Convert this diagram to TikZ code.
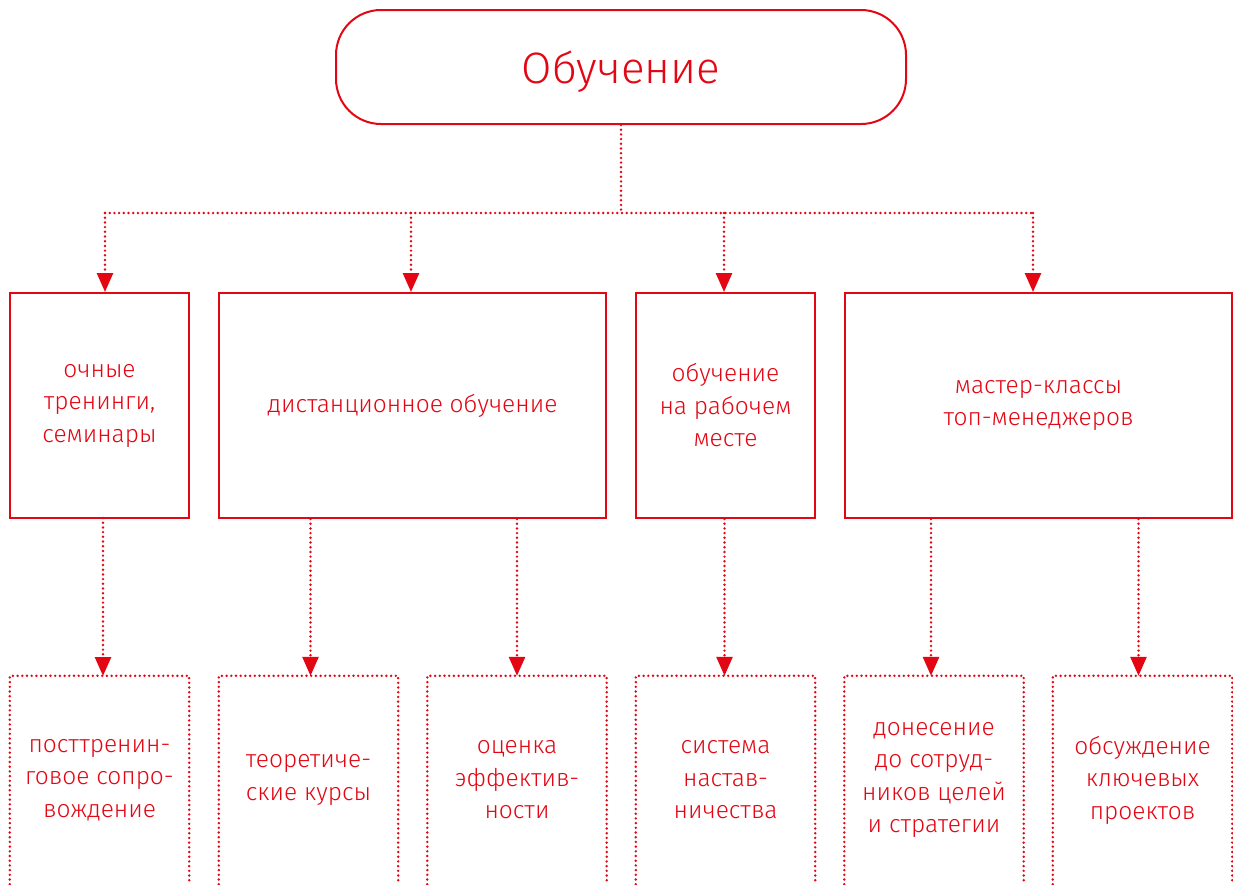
\documentclass[tikz,border=0pt]{standalone}
\usepackage{fontspec}
\setmainfont{Fira Sans Light}
\usetikzlibrary{arrows.meta}
\definecolor{brandred}{RGB}{227,6,19}

\begin{document}
\begin{tikzpicture}
[x=1pt, y=-1pt,
 every node/.style={inner sep=0pt, text=brandred, align=center, font=\fontsize{24.5}{32.5}\selectfont},
 topbox/.style={rectangle, rounded corners=45pt, draw=brandred, line width=2pt, minimum width=570pt, minimum height=114pt, text depth=0pt},
 kindbox/.style={rectangle, draw=brandred, line width=2pt, minimum height=225pt},
 formbox/.style={rectangle, minimum width=179pt, minimum height=208pt},
 link/.style={draw=brandred, line width=2.7pt, line cap=round, dash pattern=on 0pt off 4.7pt},
 arrow/.style={link, -{Triangle[width=16pt, length=19pt]}}]
\useasboundingbox (0,0) rectangle (1233,884);
% top
\node (learn) [topbox, font=\fontsize{44}{54}\selectfont] at (621, 67) {Обучение};
% kinds of learning
\node (m1) [kindbox, minimum width=179pt] at (99.5, 405.5) {очные\\тренинги,\\семинары};
\node (m2) [kindbox, minimum width=387pt] at (412.5, 405.5) {дистанционное обучение};
\node (m3) [kindbox, minimum width=179pt] at (725.5, 405.5) {обучение\\на рабочем\\месте};
\node (m4) [kindbox, minimum width=387pt] at (1038.5, 405.5) {мастер-классы\\топ-менеджеров};
% forms
\node (b1) [formbox] at (99.5, 780) {посттренин-\\говое сопро-\\вождение};
\node (b2) [formbox] at (308.5, 780) {теоретиче-\\ские курсы};
\node (b3) [formbox] at (517, 780) {оценка\\эффектив-\\ности};
\node (b4) [formbox] at (725.5, 780) {система\\настав-\\ничества};
\node (b5) [formbox] at (934, 780) {донесение\\до сотруд-\\ников целей\\и стратегии};
\node (b6) [formbox] at (1142.5, 780) {обсуждение\\ключевых\\проектов};
\foreach \b in {b1,b2,b3,b4,b5,b6}
  \draw [link] (\b.south west) -- (\b.north west) -- (\b.north east) -- (\b.south east);
% junctions
\coordinate (j0) at (621, 213);
\coordinate (j1) at (105, 213);
\coordinate (j2) at (411, 213);
\coordinate (j3) at (724, 213);
\coordinate (j4) at (1033, 213);
\draw [link] (learn.south) -- (j0);
\draw [link] (j1) -- (j4);
\draw [arrow] (j1) -- (j1 |- m1.north);
\draw [arrow] (j2) -- (j2 |- m2.north);
\draw [arrow] (j3) -- (j3 |- m3.north);
\draw [arrow] (j4) -- (j4 |- m4.north);
% from kinds to forms
\draw [arrow] (103, 518) -- (103, 676);
\draw [arrow] (m2.south -| b2.north) ++(2,0) coordinate (k2) -- (k2 |- b2.north);
\draw [arrow] (m2.south -| b3.north) -- (b3.north);
\draw [arrow] (m3.south -| b4.north) ++(-1,0) coordinate (k4) -- (k4 |- b4.north);
\draw [arrow] (m4.south -| b5.north) ++(-3,0) coordinate (k5) -- (k5 |- b5.north);
\draw [arrow] (m4.south -| b6.north) ++(-4,0) coordinate (k6) -- (k6 |- b6.north);
\end{tikzpicture}
\end{document}
